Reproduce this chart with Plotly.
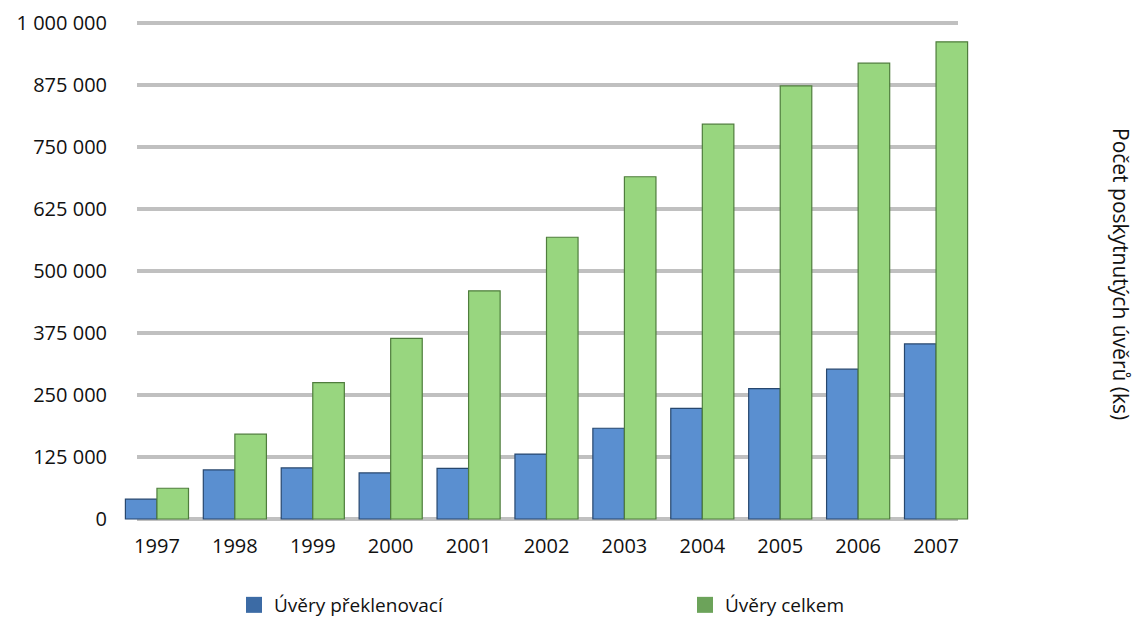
import plotly.graph_objects as go

years = ["1997", "1998", "1999", "2000", "2001", "2002", "2003", "2004", "2005", "2006", "2007"]
uvery_preklenovaci = [40000, 99000, 103000, 93000, 102000, 131000, 183000, 223000, 263000, 302000, 353000]
uvery_celkem = [62000, 171000, 275000, 364000, 460000, 568000, 690000, 796000, 873000, 919000, 962000]
y_ticks = [0, 125000, 250000, 375000, 500000, 625000, 750000, 875000, 1000000]
series_names = ["Úvěry překlenovací", "Úvěry celkem"]
axis_title = "Počet poskytnutých úvěrů (ks)"

FONT = "Open Sans"
W, H = 1138, 617
L, R, T, B = 118, 163, 20, 95
PW = W - L - R

fig = go.Figure()
fig.add_trace(go.Bar(
    x=years, y=uvery_preklenovaci, name=series_names[0], showlegend=False,
    marker=dict(color="#5a8fd0", line=dict(color="#27476e", width=1.2)),
))
fig.add_trace(go.Bar(
    x=years, y=uvery_celkem, name=series_names[1], showlegend=False,
    marker=dict(color="#98d67f", line=dict(color="#4f7d3d", width=1.2)),
))
# legend entries (legend swatches use darker shades than the bars)
fig.add_trace(go.Scatter(
    x=[None], y=[None], mode="markers", name=series_names[0], legend="legend",
    marker=dict(symbol="square", size=18, color="#3c6ba5"),
))
fig.add_trace(go.Scatter(
    x=[None], y=[None], mode="markers", name=series_names[1], legend="legend2",
    marker=dict(symbol="square", size=18, color="#6ca35a"),
))

# back-wall gridlines (shorter than the plot width, as in the 3D original)
for v in y_ticks:
    fig.add_shape(
        type="line", xref="paper", yref="y",
        x0=(137 - L) / PW, x1=(958 - L) / PW, y0=v, y1=v,
        line=dict(color="#c0c0c0", width=4), layer="below",
    )

fig.add_annotation(
    text=axis_title, textangle=90, xref="paper", yref="paper",
    x=(1121 - L) / PW, y=(H - B - 274) / (H - T - B),
    xanchor="center", yanchor="middle", showarrow=False,
    font=dict(family=FONT, size=21, color="#111111"),
)

legend_common = dict(
    xref="container", yref="container", xanchor="left", yanchor="middle",
    y=1 - 605 / H, orientation="h", bgcolor="rgba(0,0,0,0)",
    font=dict(family=FONT, size=19, color="#111111"), itemsizing="trace",
)

fig.update_layout(
    width=W, height=H,
    margin=dict(l=L, r=R, t=T, b=B, autoexpand=False),
    paper_bgcolor="white", plot_bgcolor="white",
    separators=", ",
    barmode="group", bargap=0.19, bargroupgap=0,
    font=dict(family=FONT, size=20, color="#111111"),
    showlegend=True,
    legend=dict(x=234 / W, **legend_common),
    legend2=dict(x=685 / W, **legend_common),
    xaxis=dict(
        type="category", showgrid=False, zeroline=False, showline=False,
        ticks="outside", ticklen=6, tickcolor="rgba(0,0,0,0)",
        tickfont=dict(family=FONT, size=20, color="#111111"),
    ),
    yaxis=dict(
        range=[-6000, 1006000], tickvals=y_ticks, tickformat=",d",
        showgrid=False, zeroline=False, showline=False,
        ticks="outside", ticklen=6, tickcolor="rgba(0,0,0,0)",
        tickfont=dict(family=FONT, size=20, color="#111111"),
    ),
)

fig.write_html(
    "out.html",
    config={"displayModeBar": False},
    post_script="document.body.style.margin='0';document.body.style.overflow='hidden';",
)
